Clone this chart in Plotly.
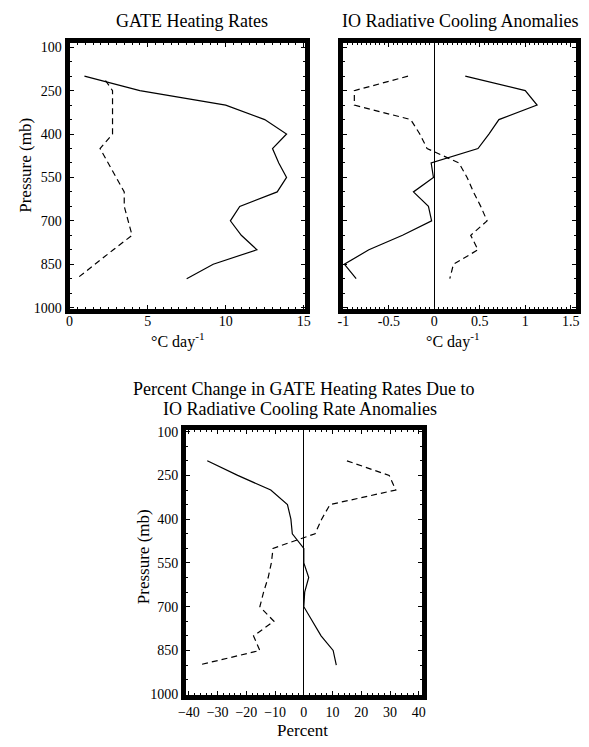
import plotly.graph_objects as go

# ---------------- data ----------------
pressure = [200, 250, 300, 350, 400, 450, 500, 550, 600, 650, 700, 750, 800, 850, 900]

gate_solid = [0.95, 4.5, 10.0, 12.5, 13.9, 13.0, 13.4, 13.9, 13.3, 10.9, 10.3, 11.0, 12.0, 9.2, 7.5]
gate_dash_p = [215, 250, 300, 350, 400, 450, 500, 550, 600, 650, 700, 750, 800, 850, 900]
gate_dash = [2.3, 2.75, 2.75, 2.75, 2.75, 1.95, 2.46, 2.98, 3.5, 3.5, 3.75, 4.0, 2.8, 1.6, 0.45]

io_solid = [0.34, 1.0, 1.13, 0.71, 0.60, 0.48, -0.035, -0.01, -0.23, -0.065, -0.03, -0.35, -0.72, -0.99, -0.86]
io_dash = [-0.29, -0.88, -0.88, -0.26, -0.16, -0.08, 0.27, 0.36, 0.43, 0.51, 0.58, 0.40, 0.48, 0.21, 0.17]

pct_solid = [-33.6, -23.0, -11.5, -5.7, -4.5, -4.0, 0.0, 0.0, 1.7, 0.3, 0.0, 3.0, 6.0, 10.2, 11.3]
pct_dash = [15.0, 29.7, 32.0, 9.1, 6.2, 3.9, -10.7, -11.3, -12.4, -14.0, -15.3, -10.4, -17.5, -15.3, -36.5]

p_ticks = [100, 250, 400, 550, 700, 850, 1000]
gate_ticks = [0, 5, 10, 15]
io_ticks = [-1, -0.5, 0, 0.5, 1, 1.5]
io_ticklabels = ["-1", "-0.5", "0", "0.5", "1", "1.5"]
pct_ticks = [-40, -30, -20, -10, 0, 10, 20, 30, 40]

W, H = 589, 747
FONT = "Liberation Serif, Times New Roman, serif"

def px(x):
    return x / W

def py(y):
    return 1 - y / H

fig = go.Figure()

solid = dict(color="black", width=1.2)
dashed = dict(color="black", width=1.2, dash="6px,4px")

fig.add_trace(go.Scatter(x=gate_solid, y=pressure, mode="lines", line=solid, xaxis="x", yaxis="y"))
fig.add_trace(go.Scatter(x=gate_dash, y=gate_dash_p, mode="lines", line=dashed, xaxis="x", yaxis="y"))
fig.add_trace(go.Scatter(x=io_solid, y=pressure, mode="lines", line=solid, xaxis="x2", yaxis="y2"))
fig.add_trace(go.Scatter(x=io_dash, y=pressure, mode="lines", line=dashed, xaxis="x2", yaxis="y2"))
fig.add_trace(go.Scatter(x=pct_solid, y=pressure, mode="lines", line=solid, xaxis="x3", yaxis="y3"))
fig.add_trace(go.Scatter(x=pct_dash, y=pressure, mode="lines", line=dashed, xaxis="x3", yaxis="y3"))

common = dict(
    showline=True, linewidth=5, linecolor="black", mirror="ticks",
    ticks="inside", ticklen=4, tickwidth=1.2, tickcolor="black",
    showgrid=False, tickfont=dict(family=FONT, size=14, color="black"),
)

top_y = [py(308), py(38)]
bot_y = [py(701), py(432)]

fig.update_layout(
    width=W, height=H,
    margin=dict(l=0, r=0, t=0, b=0),
    paper_bgcolor="white", plot_bgcolor="white",
    showlegend=False,
    font=dict(family=FONT, color="black"),
    xaxis=dict(domain=[px(63), px(304)], range=[0, 15.1], anchor="y",
               tickvals=gate_ticks, zeroline=False, ticklabelstandoff=-4,
               minor=dict(ticks="inside", ticklen=2, dtick=0.5, tickcolor="black"),
               **common),
    yaxis=dict(domain=top_y, range=[1003.5, 86.5], anchor="x",
               tickvals=p_ticks, zeroline=False,
               minor=dict(ticks="inside", ticklen=2, dtick=50, tickcolor="black"),
               **common),
    xaxis2=dict(domain=[px(343), px(581)], range=[-1, 1.56], anchor="y2",
                tickvals=io_ticks, ticktext=io_ticklabels, ticklabelstandoff=-4,
                zeroline=True, zerolinecolor="black", zerolinewidth=1.2,
                minor=dict(ticks="inside", ticklen=2, dtick=0.05, tickcolor="black"),
                **common),
    yaxis2=dict(domain=top_y, range=[1003.5, 86.5], anchor="x2",
                tickvals=p_ticks, showticklabels=False, zeroline=False,
                minor=dict(ticks="inside", ticklen=2, dtick=50, tickcolor="black"),
                **common),
    xaxis3=dict(domain=[px(182), px(423)], range=[-41, 41], anchor="y3",
                tickvals=pct_ticks,
                zeroline=True, zerolinecolor="black", zerolinewidth=1.2,
                minor=dict(ticks="inside", ticklen=2, dtick=2, tickcolor="black"),
                **common),
    yaxis3=dict(domain=bot_y, range=[1002, 96], anchor="x3",
                tickvals=p_ticks, zeroline=False,
                minor=dict(ticks="inside", ticklen=2, dtick=50, tickcolor="black"),
                **common),
)

def label(text, x, y, size, angle=0):
    fig.add_annotation(text=text, x=px(x), y=py(y), xref="paper", yref="paper",
                       showarrow=False, textangle=angle,
                       font=dict(family=FONT, size=size, color="black"),
                       xanchor="center", yanchor="middle")

label("GATE Heating Rates", 188, 15, 18)
label("IO Radiative Cooling Anomalies", 462, 15, 18)
label("Percent Change in GATE Heating Rates Due to", 302, 390, 18)
label("IO Radiative Cooling Rate Anomalies", 299, 410, 18)
label("Pressure (mb)", 18, 162, 17, -90)
label("Pressure (mb)", 138, 560, 17, -90)
label("°C day<sup>-1</sup>", 174, 340, 16)
label("°C day<sup>-1</sup>", 455, 340, 16)
label("Percent", 301, 737, 17)

fig.write_html("out.html")
